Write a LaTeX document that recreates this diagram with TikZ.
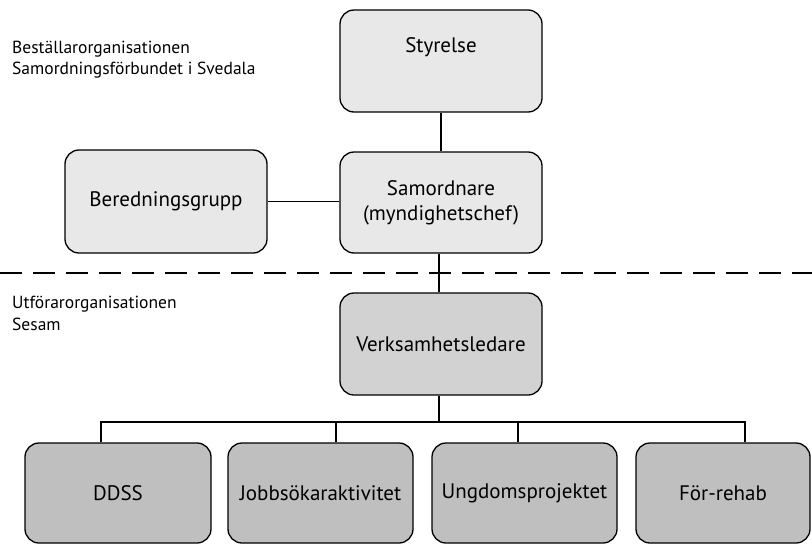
\documentclass[tikz,border=0pt]{standalone}
\usepackage{fontspec}
\setmainfont{PT Sans}
\begin{document}
\begin{tikzpicture}[x=1pt,y=-1pt,
  box/.style={draw=black,line width=1.3pt,rounded corners=14pt,inner sep=0pt,align=center,font=\fontsize{21}{25}\selectfont},
  topbox/.style={box,fill=gray!18},
  midbox/.style={box,fill=gray!35},
  botbox/.style={box,fill=gray!50},
  conn/.style={line width=1.1pt,draw=black},
  side/.style={anchor=base west,inner sep=0pt,font=\fontsize{17.5}{20}\selectfont}
]
\useasboundingbox (0,0) rectangle (812,544);
% top part
\node[topbox,minimum width=202pt,minimum height=102pt] (sty) at (441,61) {};
\node[inner sep=0pt,font=\fontsize{21}{25}\selectfont] (stytext) at (441,47) {Styrelse};
\node[topbox,minimum width=202pt,minimum height=101pt] (sam) at (441,202.5) {Samordnare\\(myndighetschef)};
\node[topbox,minimum width=202pt,minimum height=103pt] (ber) at (166,201.5) {Beredningsgrupp};
\draw[conn] (sty.south) -- (sam.north);
\draw[conn] (ber.east) -- (sam.west |- ber.east);
% side labels
\node[side] (lab1) at (12,53) {Beställarorganisationen};
\node[side] (lab2) at (12,74) {Samordningsförbundet i Svedala};
\node[side] (lab3) at (12,308) {Utförarorganisationen};
\node[side] (lab4) at (12,330) {Sesam};
% dashed separator
\coordinate (dl) at (0,273);
\coordinate (dr) at (812,273);
\draw[line width=1.3pt,dash pattern=on 22pt off 11pt] (dl) -- (dr);
% lower part
\node[midbox,minimum width=202pt,minimum height=102pt] (vl) at (441,344) {Verksamhetsledare};
\draw[conn] (sam.south -| 439,0) -- (vl.north -| 439,0);
\node[botbox,minimum width=186pt,minimum height=100pt] (ddss) at (118,493) {DDSS};
\node[botbox,minimum width=185pt,minimum height=100pt] (job) at (320.5,493) {Jobbsökaraktivitet};
\node[botbox,minimum width=185pt,minimum height=100pt] (ung) at (524.5,493) {Ungdomsprojektet};
\node[botbox,minimum width=174pt,minimum height=100pt] (for) at (723,493) {För-rehab};
\coordinate (b1) at (101,422);
\coordinate (b2) at (336,422);
\coordinate (bv) at (439,422);
\coordinate (b3) at (518,422);
\coordinate (b4) at (745,422);
\draw[conn] (vl.south -| bv) -- (bv);
\draw[conn] (b1 |- ddss.north) -- (b1) -- (b4) -- (b4 |- for.north);
\draw[conn] (b2) -- (b2 |- job.north);
\draw[conn] (b3) -- (b3 |- ung.north);
\end{tikzpicture}
\end{document}
